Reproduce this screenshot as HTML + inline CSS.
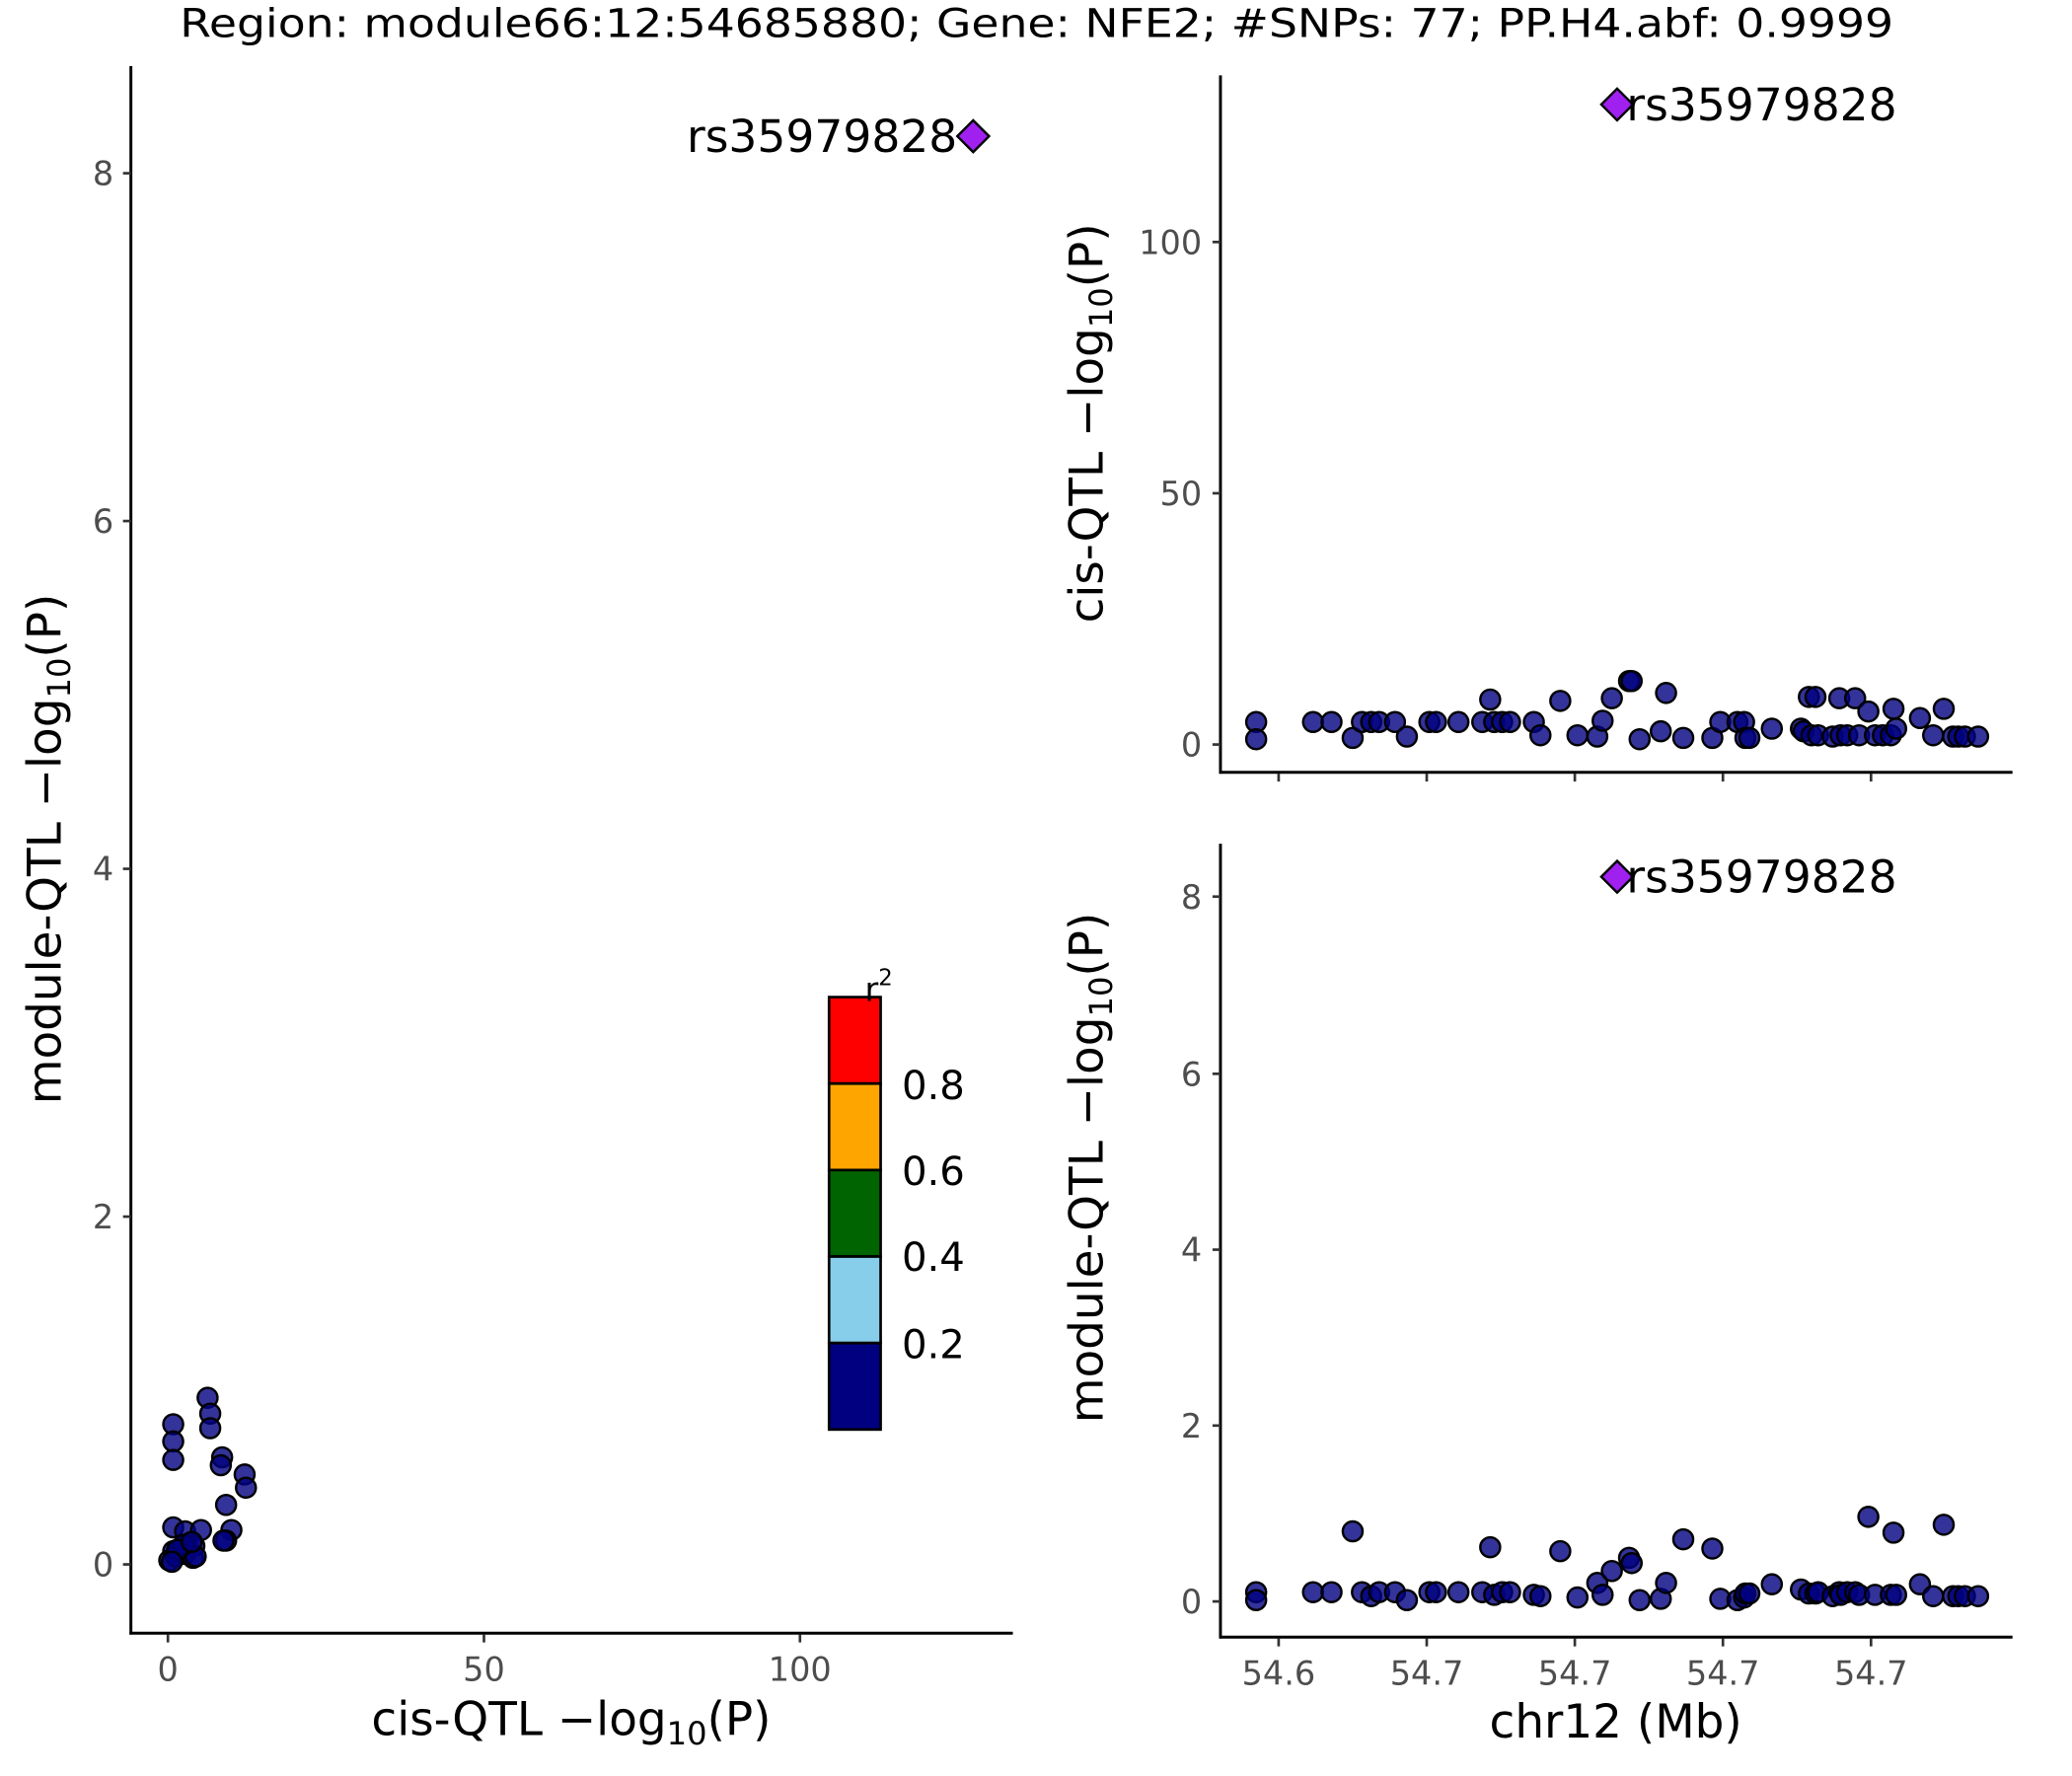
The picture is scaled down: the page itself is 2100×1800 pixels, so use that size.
<!DOCTYPE html>
<html><head><meta charset="utf-8"><style>html,body{margin:0;padding:0;background:#fff}svg{display:block}</style></head>
<body>
<svg width="2100" height="1800" viewBox="0 0 1567 1343" preserveAspectRatio="none" xmlns="http://www.w3.org/2000/svg" font-family="DejaVu Sans, Liberation Sans, sans-serif">
<text x="784" y="28" font-size="30" text-anchor="middle" textLength="1296" lengthAdjust="spacingAndGlyphs">Region: module66:12:54685880; Gene: NFE2; #SNPs: 77; PP.H4.abf: 0.9999</text>

<g stroke="#000" stroke-width="2.2" fill="none">
<line x1="99" y1="50" x2="99" y2="1236"/><line x1="98" y1="1235" x2="766" y2="1235"/>
<line x1="923" y1="57" x2="923" y2="585"/><line x1="922" y1="584" x2="1522" y2="584"/>
<line x1="923" y1="638" x2="923" y2="1239"/><line x1="922" y1="1238" x2="1522" y2="1238"/>
</g>
<g stroke="#333" stroke-width="2">
<line x1="93" y1="131" x2="99" y2="131"/><line x1="93" y1="394" x2="99" y2="394"/><line x1="93" y1="657" x2="99" y2="657"/><line x1="93" y1="920" x2="99" y2="920"/><line x1="93" y1="1183" x2="99" y2="1183"/>
<line x1="127" y1="1236" x2="127" y2="1242"/><line x1="366" y1="1236" x2="366" y2="1242"/><line x1="605" y1="1236" x2="605" y2="1242"/>
<line x1="917" y1="183" x2="923" y2="183"/><line x1="917" y1="373" x2="923" y2="373"/><line x1="917" y1="563" x2="923" y2="563"/>
<line x1="967" y1="585" x2="967" y2="591"/><line x1="1079" y1="585" x2="1079" y2="591"/><line x1="1191" y1="585" x2="1191" y2="591"/><line x1="1303" y1="585" x2="1303" y2="591"/><line x1="1415" y1="585" x2="1415" y2="591"/>
<line x1="917" y1="678" x2="923" y2="678"/><line x1="917" y1="812" x2="923" y2="812"/><line x1="917" y1="945" x2="923" y2="945"/><line x1="917" y1="1078" x2="923" y2="1078"/><line x1="917" y1="1211" x2="923" y2="1211"/>
<line x1="967" y1="1239" x2="967" y2="1245"/><line x1="1079" y1="1239" x2="1079" y2="1245"/><line x1="1191" y1="1239" x2="1191" y2="1245"/><line x1="1303" y1="1239" x2="1303" y2="1245"/><line x1="1415" y1="1239" x2="1415" y2="1245"/>
</g>
<g fill="#4d4d4d" font-size="25">
<g text-anchor="end">
<text x="86" y="140">8</text><text x="86" y="403">6</text><text x="86" y="666">4</text><text x="86" y="929">2</text><text x="86" y="1192">0</text>
<text x="909" y="192">100</text><text x="909" y="382">50</text><text x="909" y="572">0</text>
<text x="909" y="687">8</text><text x="909" y="821">6</text><text x="909" y="954">4</text><text x="909" y="1087">2</text><text x="909" y="1220">0</text>
</g>
<g text-anchor="middle">
<text x="127" y="1271">0</text><text x="366" y="1271">50</text><text x="605" y="1271">100</text>
<text x="967" y="1274">54.6</text><text x="1079" y="1274">54.7</text><text x="1191" y="1274">54.7</text><text x="1303" y="1274">54.7</text><text x="1415" y="1274">54.7</text>
</g></g>
<g font-size="35" fill="#000">
<text x="432" y="1312" text-anchor="middle">cis-QTL −log<tspan font-size="24" dy="7">10</tspan><tspan dy="-7">(P)</tspan></text>
<text x="1222" y="1314" text-anchor="middle">chr12 (Mb)</text>
<text transform="translate(46,642) rotate(-90)" text-anchor="middle">module-QTL −log<tspan font-size="24" dy="7">10</tspan><tspan dy="-7">(P)</tspan></text>
<text transform="translate(834,320) rotate(-90)" text-anchor="middle">cis-QTL −log<tspan font-size="24" dy="7">10</tspan><tspan dy="-7">(P)</tspan></text>
<text transform="translate(834,883) rotate(-90)" text-anchor="middle">module-QTL −log<tspan font-size="24" dy="7">10</tspan><tspan dy="-7">(P)</tspan></text>
</g>

<g stroke="#000" stroke-width="2">
<rect x="627" y="754" width="39" height="65.4" fill="#ff0000"/>
<rect x="627" y="819.4" width="39" height="65.4" fill="#ffa500"/>
<rect x="627" y="884.8" width="39" height="65.4" fill="#006400"/>
<rect x="627" y="950.2" width="39" height="65.4" fill="#87ceeb"/>
<rect x="627" y="1015.6" width="39" height="65.4" fill="#000080"/>
</g>
<g font-size="30"><text x="682" y="831">0.8</text><text x="682" y="896">0.6</text><text x="682" y="961">0.4</text><text x="682" y="1027">0.2</text></g>
<text x="654" y="757" font-size="25">r<tspan font-size="17" dy="-12">2</tspan></text>

<g fill="#000080" fill-opacity="0.8" stroke="#000" stroke-width="1.8">
<g>
<circle cx="131" cy="1077" r="7.5"/><circle cx="131" cy="1090" r="7.5"/><circle cx="131" cy="1104" r="7.5"/><circle cx="157" cy="1057" r="7.5"/><circle cx="159" cy="1069" r="7.5"/><circle cx="159" cy="1080" r="7.5"/><circle cx="168" cy="1102" r="7.5"/><circle cx="167" cy="1108" r="7.5"/><circle cx="185" cy="1115" r="7.5"/><circle cx="186" cy="1125" r="7.5"/><circle cx="171" cy="1138" r="7.5"/><circle cx="175" cy="1157" r="7.5"/><circle cx="171" cy="1165" r="7.5"/><circle cx="169" cy="1165" r="7.5"/><circle cx="131" cy="1155" r="7.5"/><circle cx="140" cy="1158" r="7.5"/><circle cx="152" cy="1157" r="7.5"/><circle cx="141" cy="1168" r="7.5"/><circle cx="147" cy="1169" r="7.5"/><circle cx="136" cy="1171" r="7.5"/><circle cx="131" cy="1173" r="7.5"/><circle cx="128" cy="1180" r="7.5"/><circle cx="133" cy="1177" r="7.5"/><circle cx="140" cy="1175" r="7.5"/><circle cx="146" cy="1178" r="7.5"/><circle cx="148" cy="1177" r="7.5"/><circle cx="139" cy="1168" r="7.5"/><circle cx="134" cy="1172" r="7.5"/><circle cx="130" cy="1181" r="7.5"/><circle cx="145" cy="1166" r="7.5"/>
</g>
<g>
<circle cx="950" cy="546" r="7.5"/><circle cx="950" cy="559" r="7.5"/><circle cx="993" cy="546" r="7.5"/><circle cx="1007" cy="546" r="7.5"/><circle cx="1023" cy="558" r="7.5"/><circle cx="1030" cy="546" r="7.5"/><circle cx="1037" cy="546" r="7.5"/><circle cx="1043" cy="546" r="7.5"/><circle cx="1055" cy="546" r="7.5"/><circle cx="1064" cy="557" r="7.5"/><circle cx="1081" cy="546" r="7.5"/><circle cx="1086" cy="546" r="7.5"/><circle cx="1103" cy="546" r="7.5"/><circle cx="1121" cy="546" r="7.5"/><circle cx="1127" cy="529" r="7.5"/><circle cx="1130" cy="546" r="7.5"/><circle cx="1136" cy="546" r="7.5"/><circle cx="1142" cy="546" r="7.5"/><circle cx="1160" cy="546" r="7.5"/><circle cx="1165" cy="556" r="7.5"/><circle cx="1180" cy="530" r="7.5"/><circle cx="1193" cy="556" r="7.5"/><circle cx="1208" cy="557" r="7.5"/><circle cx="1212" cy="545" r="7.5"/><circle cx="1219" cy="528" r="7.5"/><circle cx="1232" cy="515" r="7.5"/><circle cx="1234" cy="515" r="7.5"/><circle cx="1240" cy="559" r="7.5"/><circle cx="1256" cy="553" r="7.5"/><circle cx="1260" cy="524" r="7.5"/><circle cx="1273" cy="558" r="7.5"/><circle cx="1295" cy="558" r="7.5"/><circle cx="1301" cy="546" r="7.5"/><circle cx="1314" cy="546" r="7.5"/><circle cx="1319" cy="546" r="7.5"/><circle cx="1320" cy="558" r="7.5"/><circle cx="1323" cy="558" r="7.5"/><circle cx="1340" cy="551" r="7.5"/><circle cx="1362" cy="551" r="7.5"/><circle cx="1364" cy="553" r="7.5"/><circle cx="1368" cy="527" r="7.5"/><circle cx="1373" cy="527" r="7.5"/><circle cx="1370" cy="556" r="7.5"/><circle cx="1375" cy="556" r="7.5"/><circle cx="1386" cy="557" r="7.5"/><circle cx="1391" cy="528" r="7.5"/><circle cx="1392" cy="556" r="7.5"/><circle cx="1397" cy="556" r="7.5"/><circle cx="1403" cy="528" r="7.5"/><circle cx="1406" cy="556" r="7.5"/><circle cx="1413" cy="538" r="7.5"/><circle cx="1418" cy="556" r="7.5"/><circle cx="1424" cy="556" r="7.5"/><circle cx="1430" cy="556" r="7.5"/><circle cx="1432" cy="536" r="7.5"/><circle cx="1434" cy="551" r="7.5"/><circle cx="1452" cy="543" r="7.5"/><circle cx="1462" cy="556" r="7.5"/><circle cx="1470" cy="536" r="7.5"/><circle cx="1477" cy="557" r="7.5"/><circle cx="1481" cy="557" r="7.5"/><circle cx="1486" cy="557" r="7.5"/><circle cx="1496" cy="557" r="7.5"/>
</g>
<g>
<circle cx="950" cy="1204" r="7.5"/><circle cx="950" cy="1210" r="7.5"/><circle cx="993" cy="1204" r="7.5"/><circle cx="1007" cy="1204" r="7.5"/><circle cx="1023" cy="1158" r="7.5"/><circle cx="1030" cy="1204" r="7.5"/><circle cx="1037" cy="1207" r="7.5"/><circle cx="1043" cy="1204" r="7.5"/><circle cx="1055" cy="1204" r="7.5"/><circle cx="1064" cy="1210" r="7.5"/><circle cx="1081" cy="1204" r="7.5"/><circle cx="1086" cy="1204" r="7.5"/><circle cx="1103" cy="1204" r="7.5"/><circle cx="1121" cy="1204" r="7.5"/><circle cx="1127" cy="1170" r="7.5"/><circle cx="1130" cy="1206" r="7.5"/><circle cx="1136" cy="1204" r="7.5"/><circle cx="1142" cy="1204" r="7.5"/><circle cx="1160" cy="1206" r="7.5"/><circle cx="1165" cy="1207" r="7.5"/><circle cx="1180" cy="1173" r="7.5"/><circle cx="1193" cy="1208" r="7.5"/><circle cx="1208" cy="1197" r="7.5"/><circle cx="1212" cy="1206" r="7.5"/><circle cx="1219" cy="1188" r="7.5"/><circle cx="1232" cy="1178" r="7.5"/><circle cx="1234" cy="1182" r="7.5"/><circle cx="1240" cy="1210" r="7.5"/><circle cx="1256" cy="1209" r="7.5"/><circle cx="1260" cy="1197" r="7.5"/><circle cx="1273" cy="1164" r="7.5"/><circle cx="1295" cy="1171" r="7.5"/><circle cx="1301" cy="1209" r="7.5"/><circle cx="1314" cy="1210" r="7.5"/><circle cx="1319" cy="1208" r="7.5"/><circle cx="1320" cy="1205" r="7.5"/><circle cx="1323" cy="1205" r="7.5"/><circle cx="1340" cy="1198" r="7.5"/><circle cx="1362" cy="1202" r="7.5"/><circle cx="1368" cy="1205" r="7.5"/><circle cx="1373" cy="1205" r="7.5"/><circle cx="1375" cy="1204" r="7.5"/><circle cx="1386" cy="1207" r="7.5"/><circle cx="1391" cy="1204" r="7.5"/><circle cx="1392" cy="1206" r="7.5"/><circle cx="1397" cy="1204" r="7.5"/><circle cx="1403" cy="1204" r="7.5"/><circle cx="1406" cy="1206" r="7.5"/><circle cx="1413" cy="1147" r="7.5"/><circle cx="1418" cy="1206" r="7.5"/><circle cx="1430" cy="1206" r="7.5"/><circle cx="1432" cy="1159" r="7.5"/><circle cx="1434" cy="1206" r="7.5"/><circle cx="1452" cy="1198" r="7.5"/><circle cx="1462" cy="1207" r="7.5"/><circle cx="1470" cy="1153" r="7.5"/><circle cx="1477" cy="1207" r="7.5"/><circle cx="1481" cy="1207" r="7.5"/><circle cx="1486" cy="1207" r="7.5"/><circle cx="1496" cy="1207" r="7.5"/>
</g>
</g>

<g fill="#a020f0" stroke="#000" stroke-width="1.8">
<polygon points="736,91 748,103 736,115 724,103"/>
<polygon points="1223,67 1235,79 1223,91 1211,79"/>
<polygon points="1223,651 1235,663 1223,675 1211,663"/>
</g>
<g font-size="34">
<text x="724" y="115" text-anchor="end">rs35979828</text>
<text x="1230" y="91">rs35979828</text>
<text x="1230" y="675">rs35979828</text>
</g>
</svg>
</body></html>
